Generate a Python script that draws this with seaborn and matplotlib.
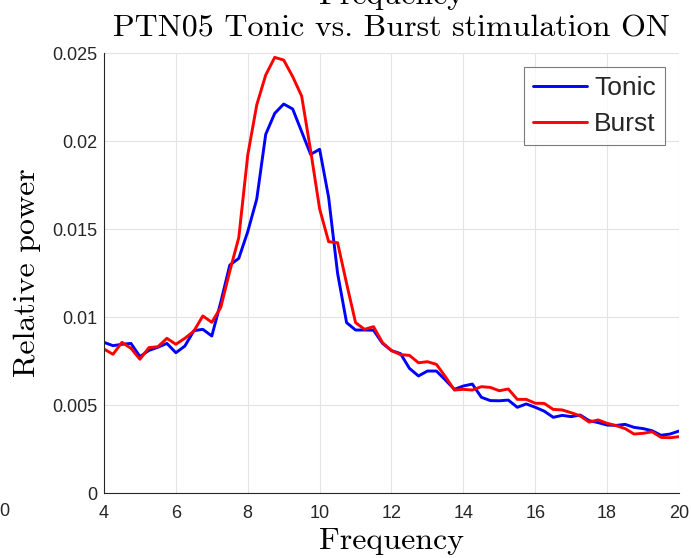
import numpy as np
import pandas as pd
import matplotlib
matplotlib.use("Agg")
import matplotlib.pyplot as plt
import seaborn as sns
from matplotlib.lines import Line2D

freq = [4.00, 4.25, 4.50, 4.75, 5.00, 5.25, 5.50, 5.75, 6.00, 6.25, 6.50, 6.75, 7.00,
        7.25, 7.50, 7.75, 8.00, 8.25, 8.50, 8.75, 9.00, 9.25, 9.50, 9.75, 10.00,
        10.25, 10.50, 10.75, 11.00, 11.25, 11.50, 11.75, 12.00, 12.25, 12.50, 12.75,
        13.00, 13.25, 13.50, 13.75, 14.00, 14.25, 14.50, 14.75, 15.00, 15.25, 15.50,
        15.75, 16.00, 16.25, 16.50, 16.75, 17.00, 17.25, 17.50, 17.75, 18.00, 18.25,
        18.50, 18.75, 19.00, 19.25, 19.50, 19.75, 20.00]

tonic = [0.00856, 0.00837, 0.00845, 0.00850, 0.00775, 0.00810, 0.00828, 0.00850,
         0.00797, 0.00835, 0.00922, 0.00930, 0.00892, 0.01085, 0.01295, 0.01333,
         0.01485, 0.01670, 0.02038, 0.02157, 0.02210, 0.02182, 0.02053, 0.01924,
         0.01953, 0.01680, 0.01248, 0.00968, 0.00926, 0.00926, 0.00925, 0.00850,
         0.00809, 0.00792, 0.00708, 0.00665, 0.00693, 0.00693, 0.00642, 0.00589,
         0.00608, 0.00619, 0.00544, 0.00525, 0.00524, 0.00528, 0.00487, 0.00506,
         0.00487, 0.00465, 0.00430, 0.00441, 0.00434, 0.00443, 0.00411, 0.00400,
         0.00386, 0.00384, 0.00390, 0.00373, 0.00366, 0.00354, 0.00328, 0.00335,
         0.00352]

burst = [0.00818, 0.00788, 0.00856, 0.00822, 0.00760, 0.00826, 0.00831, 0.00879,
         0.00845, 0.00879, 0.00920, 0.01006, 0.00970, 0.01055, 0.01260, 0.01451,
         0.01920, 0.02205, 0.02375, 0.02475, 0.02460, 0.02366, 0.02255, 0.01945,
         0.01615, 0.01428, 0.01422, 0.01191, 0.00968, 0.00930, 0.00945, 0.00854,
         0.00809, 0.00786, 0.00782, 0.00740, 0.00746, 0.00731, 0.00661, 0.00585,
         0.00589, 0.00585, 0.00604, 0.00600, 0.00581, 0.00591, 0.00532, 0.00532,
         0.00510, 0.00509, 0.00475, 0.00472, 0.00456, 0.00438, 0.00403, 0.00415,
         0.00396, 0.00383, 0.00366, 0.00335, 0.00339, 0.00348, 0.00316, 0.00314,
         0.00320]

series_names = ["Tonic", "Burst"]
series_colors = ["#0000ff", "#ff0000"]
x_ticks = [4, 6, 8, 10, 12, 14, 16, 18, 20]
y_ticks = [0, 0.005, 0.01, 0.015, 0.02, 0.025]
y_tick_labels = ["0", "0.005", "0.01", "0.015", "0.02", "0.025"]

df = pd.DataFrame({
    "Frequency": freq * 2,
    "Power": tonic + burst,
    "Condition": ["Tonic"] * len(freq) + ["Burst"] * len(freq),
})

sns.set_style("white")
plt.rcParams["font.family"] = ["Liberation Sans", "DejaVu Sans"]

W, H = 691, 558
fig = plt.figure(figsize=(W / 100, H / 100), dpi=100)
ax = fig.add_axes([104 / W, 1 - 493 / H, (679 - 104) / W, (493 - 53) / H])

sns.lineplot(data=df, x="Frequency", y="Power", hue="Condition",
             hue_order=series_names, palette=series_colors, linewidth=2.1,
             ax=ax, legend=False)

ax.set_xlim(4, 20)
ax.set_ylim(0, 0.025)
ax.set_xticks(x_ticks)
ax.set_xticklabels([str(t) for t in x_ticks])
ax.set_yticks(y_ticks)
ax.set_yticklabels(y_tick_labels)

axc = "#262626"
for s in ["top", "right"]:
    ax.spines[s].set_visible(False)
for s in ["left", "bottom"]:
    ax.spines[s].set_color(axc)
    ax.spines[s].set_linewidth(0.8)
ax.grid(True, color="#e3e3e3", linewidth=0.8)
ax.set_axisbelow(True)
ax.tick_params(axis="both", direction="in", length=4, width=0.8, color=axc,
               labelcolor=axc, labelsize=13)
ax.tick_params(axis="x", pad=9)
ax.tick_params(axis="y", pad=5)

serif = "cmr10"
ax.set_xlabel("Frequency", fontfamily=serif, fontsize=23, labelpad=4, color="black")
ax.set_ylabel("Relative power", fontfamily=serif, fontsize=23, labelpad=8, color="black")
ax.set_title("PTN05 Tonic vs. Burst stimulation ON", fontfamily=serif,
             fontsize=23, pad=12, color="black")
fig.text(391.5 / W, 1 - 4 / H, "Frequency", fontfamily=serif, fontsize=23,
         ha="center", va="baseline", color="black")
fig.text(4 / W, 1 - 512 / H, "0", fontsize=13, ha="center", va="center", color=axc)

handles = [Line2D([], [], color=c, linewidth=2.1) for c in series_colors]
leg = ax.legend(handles, series_names, loc="upper right",
                bbox_to_anchor=((665 - 104) / (679 - 104), 1 - (67 - 53) / (493 - 53)),
                fontsize=19, frameon=True, fancybox=False, handlelength=2.05,
                handletextpad=0.25, borderaxespad=0, borderpad=0.35,
                labelspacing=0.45)
leg.get_frame().set_edgecolor("#5a5a5a")
leg.get_frame().set_linewidth(0.8)

fig.savefig("out.png", dpi=100)
